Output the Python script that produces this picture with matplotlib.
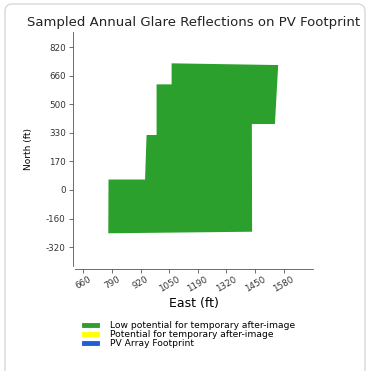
import numpy as np
import matplotlib
matplotlib.use("Agg")
import matplotlib.pyplot as plt
from matplotlib.patches import FancyBboxPatch
from matplotlib.lines import Line2D

# Footprint polygon of sampled glare reflections (east, north in ft)
east_ft = [1065, 1555, 1540, 1434, 1435, 774, 775, 943, 950, 996, 996, 1065]
north_ft = [731, 721, 382, 382, -237, -246, 63, 63, 319, 319, 610, 610]

x_tick_labels = ["660", "790", "920", "1050", "1190", "1320", "1450", "1580"]
y_tick_labels = ["-320", "-160", "0", "170", "330", "500", "660", "820"]
x_tick_pos = np.linspace(660, 1580, 8)
y_tick_pos = np.linspace(-325, 823, 8)

legend_labels = ["Low potential for temporary after-image",
                 "Potential for temporary after-image",
                 "PV Array Footprint"]
legend_colors = ["#2ca02c", "#ffff00", "#1f5fd6"]

fig = plt.figure(figsize=(3.70, 3.71), dpi=100)
fig.patch.set_facecolor("white")

# card frame
card = FancyBboxPatch((5 / 370, -0.05), 360 / 370, 1.05 - 4 / 371,
                      boxstyle="round,pad=0,rounding_size=0.02",
                      transform=fig.transFigure, facecolor="none",
                      edgecolor="#d8d8d8", linewidth=1.0)
fig.patches.append(card)

ax = fig.add_axes([75 / 370, 1 - 266 / 371, 238 / 370, 234 / 371])
ax.fill(east_ft, north_ft, color="#2ca02c", linewidth=0)

for s in ["top", "right"]:
    ax.spines[s].set_visible(False)
ax.spines["left"].set_position(("outward", 1.7))
ax.spines["bottom"].set_position(("outward", 2.4))
for s in ["left", "bottom"]:
    ax.spines[s].set_linewidth(0.6)
    ax.spines[s].set_color("#555555")

ax.set_xlim(621, 1715)
ax.set_ylim(-434, 911)

ax.set_xticks(x_tick_pos, x_tick_labels)
ax.set_yticks(y_tick_pos, y_tick_labels)
ax.tick_params(length=3, width=0.6, color="#555555", pad=2,
               labelsize=6.3, labelcolor="#333333")
ax.tick_params(axis="x", pad=1, labelrotation=30)

ax.set_xlabel("East (ft)", fontsize=9, labelpad=2)
ax.set_ylabel("North (ft)", fontsize=6.5, labelpad=9)
ax.set_title("Sampled Annual Glare Reflections on PV Footprint", fontsize=9.5,
             pad=4, color="#222222")

handles = [Line2D([0], [0], color=c, linewidth=3.5) for c in legend_colors]
fig.legend(handles, legend_labels, loc="upper left",
           bbox_to_anchor=(84 / 370, 1 - 321 / 371), frameon=False,
           fontsize=6.6, handlelength=1.4, labelspacing=0.0, handletextpad=1.4,
           borderaxespad=0, borderpad=0)

fig.savefig("out.png", dpi=100)
